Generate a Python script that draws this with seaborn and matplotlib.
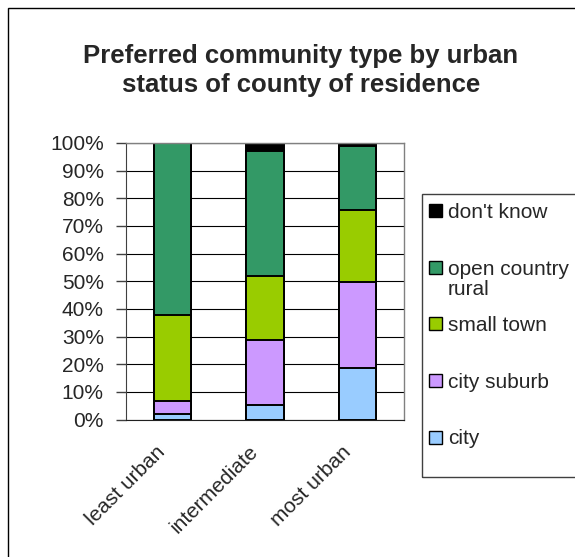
import numpy as np
import pandas as pd
import matplotlib
matplotlib.use("Agg")
import matplotlib.pyplot as plt
import matplotlib.transforms as mtransforms
from matplotlib.patches import Rectangle
import seaborn as sns

# ---- data (percent of respondents) ----
counties = ["least urban", "intermediate", "most urban"]
city = [1.9, 5.4, 18.7]
city_suburb = [4.8, 23.3, 31.2]
small_town = [31.2, 23.3, 25.8]
open_country = [62.1, 45.2, 23.1]
dont_know = [0.0, 2.8, 1.2]

series_names = ["city", "city suburb", "small town", "open country\nrural", "don't know"]
series_values = [city, city_suburb, small_town, open_country, dont_know]
series_colors = ["#99CCFF", "#CC99FF", "#99CC00", "#339966", "#000000"]
y_ticks = list(range(0, 101, 10))
title_lines = ["Preferred community type by urban", "status of county of residence"]

sns.set_style("white")
plt.rcParams["font.family"] = ["Liberation Sans", "DejaVu Sans"]

W, H = 575, 557
fig = plt.figure(figsize=(W / 100, H / 100), dpi=100)


def fx(x):
    return x / W


def fy(y):
    return 1 - y / H


# chart area frame
fig.add_artist(Rectangle((fx(8), fy(640)), fx(640), 632 / H, transform=fig.transFigure,
                         fill=False, edgecolor="#000000", linewidth=1.0))

ax = fig.add_axes([fx(126), fy(419.5), fx(404) - fx(126), (419.5 - 143) / H])

# stacked bars: draw cumulative totals from the top layer down
df = pd.DataFrame({name: vals for name, vals in zip(series_names, series_values)}, index=counties)
cum = df.cumsum(axis=1)
for name, color in reversed(list(zip(series_names, series_colors))):
    sns.barplot(x=counties, y=cum[name].values, color=color, width=0.4,
                edgecolor="black", linewidth=1.4, saturation=1, ax=ax, zorder=3)

ax.set_xlim(-0.5, 2.5)
ax.set_ylim(0, 100)
ax.set_yticks(y_ticks)
ax.set_yticklabels([f"{t}%" for t in y_ticks], fontsize=15)
ax.yaxis.grid(True, color="black", linewidth=0.8)
ax.set_axisbelow(True)

ax.set_xticks(range(len(counties)))
ax.set_xticklabels(counties, fontsize=15, rotation=45, ha="right", va="center",
                   rotation_mode="anchor")
ax.set_xticks([-0.5, 0.5, 1.5, 2.5], minor=True)
ax.tick_params(axis="x", which="major", length=0, pad=21)
ax.tick_params(axis="x", which="minor", length=6, width=1, color="#404040", direction="out")
ax.tick_params(axis="y", length=7, width=1, color="#404040", direction="out", pad=9, left=True)
shift = mtransforms.ScaledTranslation(-10 / 100, 0, fig.dpi_scale_trans)
for lab in ax.get_xticklabels():
    lab.set_transform(lab.get_transform() + shift)

ax.set_xlabel("")
ax.set_ylabel("")
for side in ["top", "right"]:
    ax.spines[side].set_color("#808080")
    ax.spines[side].set_linewidth(1.0)
ax.spines["left"].set_color("#404040")
ax.spines["bottom"].set_color("#202020")
for side in ax.spines:
    ax.spines[side].set_visible(True)
    ax.spines[side].set_zorder(4)

# title
fig.text(fx(301), fy(63.3), title_lines[0], ha="center", va="baseline",
         fontsize=18.5, fontweight="bold")
fig.text(fx(301), fy(91.7), title_lines[1], ha="center", va="baseline",
         fontsize=18.5, fontweight="bold")

# legend box with entries listed top-down
fig.add_artist(Rectangle((fx(421.7), fy(477)), fx(300), (477 - 194) / H,
                         transform=fig.transFigure, fill=False,
                         edgecolor="#404040", linewidth=1.0))
baselines = [218, 275, 331.7, 388, 445]
for base, name, color in zip(baselines, reversed(series_names), reversed(series_colors)):
    fig.add_artist(Rectangle((fx(429), fy(base - 1.5)), fx(13), 13 / H,
                             transform=fig.transFigure, facecolor=color,
                             edgecolor="black", linewidth=1.0))
    fig.text(fx(448), fy(base - 15.5), name, ha="left", va="top", fontsize=15,
             linespacing=1.1)

fig.savefig("out.png", dpi=100)
